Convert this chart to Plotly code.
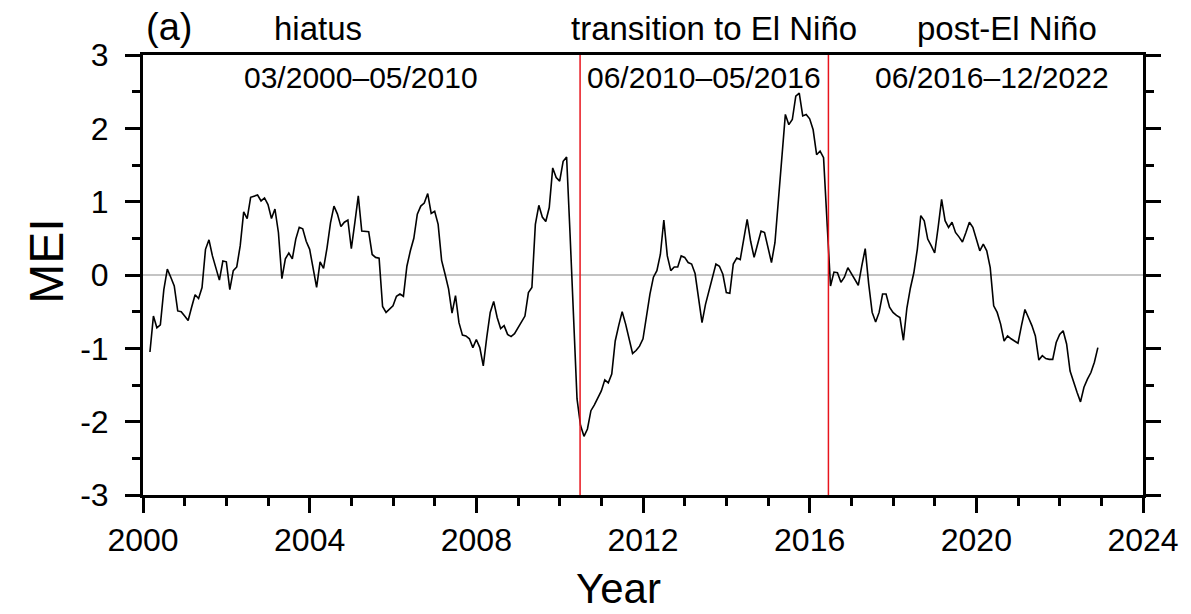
import plotly.graph_objects as go

# Monthly MEI values (Mar 2000 - Dec 2022)
start_year = 2000
start_month = 3
mei_2000 = [-1.05, -0.56, -0.72, -0.68, -0.20, 0.08, -0.03, -0.15, -0.49, -0.50]
mei_2001 = [-0.56, -0.62, -0.44, -0.27, -0.32, -0.17, 0.35, 0.48, 0.26, 0.08, -0.07, 0.19]
mei_2002 = [0.18, -0.20, 0.06, 0.11, 0.40, 0.86, 0.77, 1.06, 1.07, 1.09, 1.01, 1.05]
mei_2003 = [0.96, 0.77, 0.90, 0.58, -0.05, 0.22, 0.30, 0.22, 0.49, 0.65, 0.63, 0.46]
mei_2004 = [0.35, 0.10, -0.17, 0.18, 0.09, 0.37, 0.71, 0.94, 0.83, 0.66, 0.72, 0.75]
mei_2005 = [0.36, 0.71, 1.08, 0.60, 0.60, 0.59, 0.28, 0.24, 0.23, -0.43, -0.51, -0.47]
mei_2006 = [-0.42, -0.29, -0.26, -0.29, 0.12, 0.33, 0.50, 0.83, 0.94, 0.98, 1.11, 0.84]
mei_2007 = [0.87, 0.69, 0.20, 0.01, -0.19, -0.52, -0.28, -0.65, -0.82, -0.83, -0.87, -0.99]
mei_2008 = [-0.88, -0.99, -1.24, -0.85, -0.51, -0.36, -0.58, -0.73, -0.69, -0.81, -0.84, -0.80]
mei_2009 = [-0.72, -0.65, -0.56, -0.24, -0.17, 0.69, 0.95, 0.79, 0.73, 0.92, 1.46, 1.33]
mei_2010 = [1.28, 1.55, 1.61, 0.55, -0.55, -1.69, -2.05, -2.20, -2.10, -1.85, -1.77, -1.67]
mei_2011 = [-1.58, -1.43, -1.47, -1.35, -0.90, -0.69, -0.50, -0.67, -0.85, -1.07, -1.03, -0.97]
mei_2012 = [-0.87, -0.53, -0.26, -0.03, 0.06, 0.28, 0.75, 0.26, 0.06, 0.11, 0.11, 0.26]
mei_2013 = [0.24, 0.17, 0.15, 0.02, -0.35, -0.65, -0.40, -0.22, -0.06, 0.15, 0.12, 0.01]
mei_2014 = [-0.24, -0.25, 0.15, 0.23, 0.21, 0.46, 0.76, 0.46, 0.24, 0.42, 0.60, 0.58]
mei_2015 = [0.37, 0.17, 0.44, 1.01, 1.60, 2.19, 2.05, 2.12, 2.44, 2.48, 2.17, 2.19]
mei_2016 = [2.13, 1.98, 1.64, 1.69, 1.60, 0.67, -0.15, 0.04, 0.03, -0.10, -0.03, 0.10]
mei_2017 = [0.02, -0.06, -0.14, 0.12, 0.36, -0.12, -0.51, -0.64, -0.51, -0.26, -0.26, -0.44]
mei_2018 = [-0.51, -0.55, -0.58, -0.89, -0.45, -0.18, 0.03, 0.35, 0.81, 0.74, 0.49, 0.40]
mei_2019 = [0.30, 0.65, 1.03, 0.74, 0.65, 0.72, 0.58, 0.52, 0.45, 0.58, 0.72, 0.65]
mei_2020 = [0.49, 0.33, 0.42, 0.33, 0.10, -0.42, -0.51, -0.67, -0.90, -0.83, -0.87, -0.90]
mei_2021 = [-0.93, -0.69, -0.47, -0.58, -0.69, -0.83, -1.16, -1.10, -1.14, -1.15, -1.15, -0.92]
mei_2022 = [-0.81, -0.76, -0.94, -1.31, -1.47, -1.60, -1.73, -1.53, -1.42, -1.33, -1.19, -0.99]

period_bounds = [2010.49, 2016.45]
period_names = ["hiatus", "transition to El Niño", "post-El Niño"]
period_dates = ["03/2000\u201305/2010", "06/2010\u201305/2016", "06/2016\u201312/2022"]
name_centers = [2004.21, 2013.70, 2020.73]
date_centers = [2005.24, 2013.47, 2020.38]

x_ticks = [2000, 2004, 2008, 2012, 2016, 2020, 2024]
y_ticks = [-3, -2, -1, 0, 1, 2, 3]

mei = (mei_2000 + mei_2001 + mei_2002 + mei_2003 + mei_2004 + mei_2005 + mei_2006
       + mei_2007 + mei_2008 + mei_2009 + mei_2010 + mei_2011 + mei_2012 + mei_2013
       + mei_2014 + mei_2015 + mei_2016 + mei_2017 + mei_2018 + mei_2019 + mei_2020
       + mei_2021 + mei_2022)
t = [start_year + (start_month - 1 + i) / 12 for i in range(len(mei))]

FONT = "Liberation Sans, Arial, sans-serif"

fig = go.Figure()
fig.add_trace(go.Scatter(x=t, y=mei, mode="lines",
                         line=dict(color="black", width=1.6), showlegend=False))

for xb in period_bounds:
    fig.add_shape(type="line", xref="x", yref="paper", x0=xb, x1=xb, y0=0, y1=1,
                  line=dict(color="#e8141c", width=1.5))

ann = []
for name, xc in zip(period_names, name_centers):
    ann.append(dict(x=xc, y=1.061, xref="x", yref="paper", text=name, showarrow=False,
                    xanchor="center", yanchor="middle", font=dict(size=33, color="black", family=FONT)))
for d, xc in zip(period_dates, date_centers):
    ann.append(dict(x=xc, y=0.948, xref="x", yref="paper", text=d, showarrow=False,
                    xanchor="center", yanchor="middle", font=dict(size=30, color="black", family=FONT)))
ann.append(dict(x=0.001, y=1.063, xref="paper", yref="paper", text="(a)", showarrow=False,
                xanchor="left", yanchor="middle", font=dict(size=38, color="black", family=FONT)))
ann.append(dict(x=0.475, y=-0.212, xref="paper", yref="paper", text="Year", showarrow=False,
                xanchor="center", yanchor="middle", font=dict(size=42, color="black", family=FONT)))
ann.append(dict(x=-0.096, y=0.53, xref="paper", yref="paper", text="MEI", showarrow=False,
                textangle=-90, xanchor="center", yanchor="middle",
                font=dict(size=48, color="black", family=FONT)))

fig.update_layout(
    width=1191, height=614,
    margin=dict(l=143, r=41, t=55, b=119),
    paper_bgcolor="white", plot_bgcolor="white",
    annotations=ann,
    font=dict(family=FONT, color="black"),
    xaxis=dict(range=[2000, 2024], tickvals=x_ticks, ticktext=[str(v) for v in x_ticks],
               showgrid=False, zeroline=False, showline=True, linecolor="black", linewidth=3,
               mirror=True, ticks="outside", ticklen=15, tickwidth=3, tickcolor="black",
               tickfont=dict(size=32, family=FONT, color="black"),
               minor=dict(dtick=1, tick0=2000, ticks="outside", ticklen=8, tickwidth=3,
                          tickcolor="black", showgrid=False)),
    yaxis=dict(range=[-3, 3], tickvals=y_ticks, ticktext=[str(v) for v in y_ticks],
               showgrid=False, zeroline=True, zerolinecolor="#c4c4c4", zerolinewidth=2,
               showline=True, linecolor="black", linewidth=3,
               mirror="ticks", ticks="outside", ticklen=15, tickwidth=3, tickcolor="black",
               ticklabelstandoff=10,
               tickfont=dict(size=32, family=FONT, color="black"),
               minor=dict(dtick=0.5, tick0=0, ticks="outside", ticklen=8, tickwidth=3,
                          tickcolor="black", showgrid=False)),
)

fig.write_html("out.html")
